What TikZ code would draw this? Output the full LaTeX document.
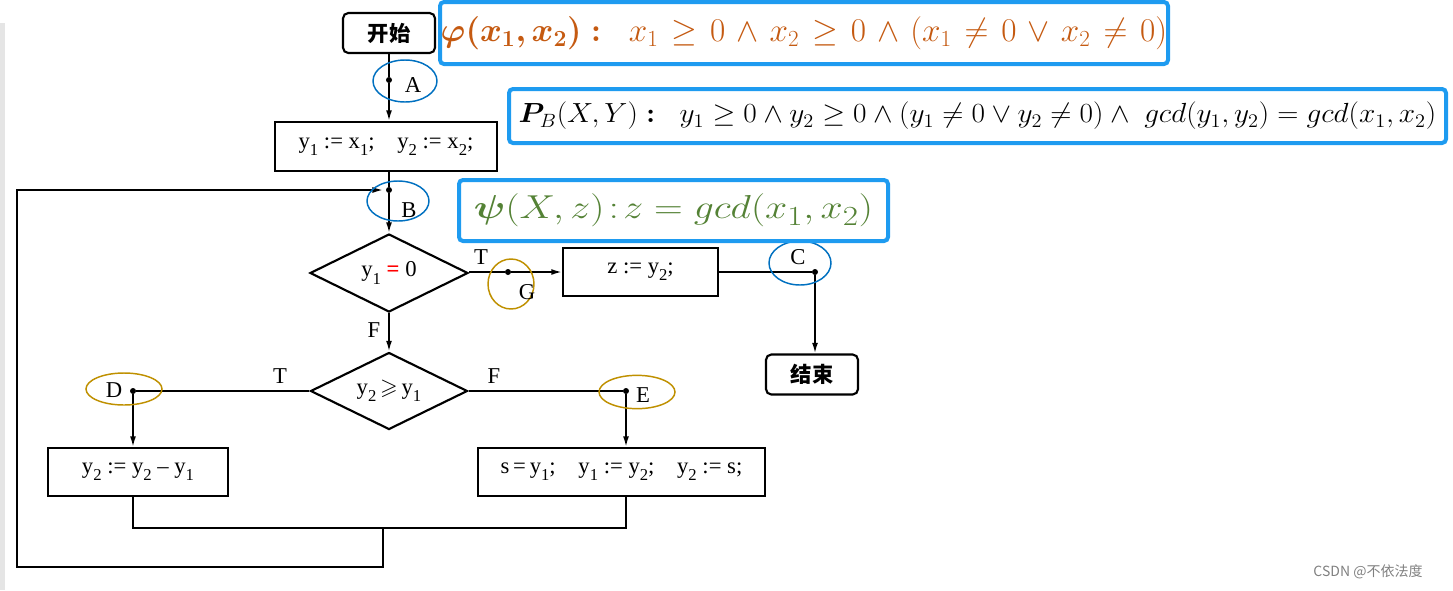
\documentclass[tikz,border=0pt]{standalone}
\usepackage{amsmath,amssymb,bm}
\usepackage{fontspec}
\setmainfont{Liberation Serif}
\newfontfamily\cjk{Noto Sans CJK SC}
\usetikzlibrary{shapes.geometric,arrows.meta}
\definecolor{frameblue}{RGB}{30,155,240}
\definecolor{ellblue}{RGB}{0,112,192}
\definecolor{ellgold}{RGB}{191,144,0}
\definecolor{phiorange}{RGB}{197,90,17}
\definecolor{psigreen}{RGB}{84,130,53}
\newcommand\lsb[1]{\raisebox{-0.7ex}{\fontsize{12.5pt}{12.5pt}\selectfont #1}}
\newcommand\asg{\ :=\ }
\newcommand\msp{\mkern2mu}
\begin{document}
\begin{tikzpicture}[x=0.75pt,y=-0.75pt,
  every node/.style={font=\fontsize{17pt}{19pt}\selectfont},
  procbox/.style={draw,line width=1.6pt,rectangle,inner sep=0pt},
  termbox/.style={draw,line width=1.6pt,rectangle,rounded corners=4pt,inner sep=0pt,minimum width=69pt,minimum height=30pt,font=\cjk\bfseries\fontsize{16pt}{18pt}\selectfont},
  decbox/.style={draw,line width=1.6pt,diamond,aspect=2,inner sep=0pt},
  flow/.style={line width=1.3pt},
  arr/.style={line width=1.3pt,-{Latex[length=8pt,width=4.5pt]}},
  dot/.style={circle,fill=black,inner sep=0pt,minimum size=4.5pt},
  lbl/.style={inner sep=0pt},
  blueell/.style={draw=ellblue,line width=1.1pt},
  goldell/.style={draw=ellgold,line width=1.1pt},
  frame/.style={draw=frameblue,line width=3pt,rounded corners=3pt,rectangle,inner sep=0pt,fill=white}]
\useasboundingbox (0,0) rectangle (1453,590);
\fill[black!10] (0,23) rectangle (5,590);

% flowchart nodes
\node[termbox] (start) at (389,33) {开始};
\node[procbox,minimum width=166.5pt,minimum height=36.75pt] (box1) at (386,146.5) {y\lsb{1}\asg x\lsb{1};\quad y\lsb{2}\asg x\lsb{2};};
\node[decbox,minimum width=118.5pt,minimum height=58.5pt] (d1) at (389,273) {y\lsb{1}\ {\color{red}\textbf{=}}\ 0};
\node[procbox,minimum width=116.25pt,minimum height=36pt] (boxz) at (640.5,272) {z\asg y\lsb{2};};
\node[termbox] (end) at (812,374.5) {结束};
\node[decbox,minimum width=117.75pt,minimum height=57.75pt] (d2) at (389,391) {y\lsb{2}\,$\geqslant$\,y\lsb{1}};
\node[procbox,minimum width=135pt,minimum height=36pt] (box3) at (138,472) {y\lsb{2}\asg y\lsb{2}\ –\ y\lsb{1}};
\node[procbox,minimum width=215.25pt,minimum height=36pt] (box4) at (621.5,472) {s\,=\,y\lsb{1};\quad y\lsb{1}\asg y\lsb{2};\quad y\lsb{2}\asg s;};

% junction points
\node[dot] (dA) at (389,80) {};
\node[dot] (dB) at (389,190) {};
\node[dot] (dG) at (508,272) {};
\node[dot] (dC) at (815,272) {};
\node[dot] (dD) at (133,391) {};
\node[dot] (dE) at (626,391) {};
\coordinate (m1) at (133,528);
\coordinate (m2) at (626,528);
\coordinate (mm) at (383,528);
\coordinate (lb) at (383,567);
\coordinate (ll) at (17,567);
\coordinate (lt) at (17,190);

% connectors
\draw[arr] (start.south) -- (dA) -- (start.south |- box1.north);
\draw[arr] (box1.south -| dB) -- (dB) -- (d1.north);
\draw[arr] (d1.east |- dG) -- (dG) -- (boxz.west);
\draw[flow] (boxz.east) -- (dC);
\draw[arr] (dC) -- (dC |- end.north);
\draw[arr] (d1.south) -- (d2.north);
\draw[flow] (d2.west) -- (dD);
\draw[arr] (dD) -- (dD |- box3.north);
\draw[flow] (d2.east) -- (dE);
\draw[arr] (dE) -- (dE |- box4.north);
\draw[flow] (box3.south -| m1) -- (m1) -- (m2) -- (box4.south -| m2);
\draw[arr,shorten >=2pt] (mm) -- (lb) -- (ll) -- (lt) -- (dB);

% branch labels
\node[lbl] (t1) at (481,257) {T};
\node[lbl] (f1) at (374,330) {F};
\node[lbl] (t2) at (280,376) {T};
\node[lbl] (f2) at (494,376) {F};

% point labels and ellipses
\draw[blueell] (405,81) ellipse [x radius=24pt, y radius=15.75pt];
\node[lbl] (lA) at (413,85) {A};
\draw[blueell] (398,201) ellipse [x radius=23.25pt, y radius=15pt];
\node[lbl] (lB) at (409,210) {B};
\draw[blueell] (800,263) ellipse [x radius=23.25pt, y radius=16.5pt];
\node[lbl] (lC) at (798,257) {C};
\draw[goldell] (511,284) ellipse [x radius=17.25pt, y radius=18.75pt];
\node[lbl] (lG) at (527,292) {G};
\draw[goldell] (124,389) ellipse [x radius=28.5pt, y radius=12pt];
\node[lbl] (lD) at (114,390) {D};
\draw[goldell] (637,392) ellipse [x radius=28.5pt, y radius=12.5pt];
\node[lbl] (lE) at (643,395) {E};

% assertion frames
\node[frame,minimum width=546pt,minimum height=46.5pt,text=phiorange] (phi) at (804,33)
  {\fontsize{24pt}{26pt}\selectfont $\bm{\varphi(x_1,x_2)}\bm{:}\;\; x_1\msp\geq\msp 0\msp\wedge\msp x_2\msp\geq\msp 0\msp\wedge\msp(x_1\msp\neq\msp 0\msp\vee\msp x_2\msp\neq\msp 0)$};
\node[frame,minimum width=702.75pt,minimum height=40.5pt] (pb) at (977.5,116)
  {\scalebox{1.06}[1]{\fontsize{22pt}{24pt}\selectfont $\bm{P}_{B}(X,Y)\bm{:}\;\; y_1\geq 0\wedge y_2\geq 0\wedge(y_1\neq 0\vee y_2\neq 0)\wedge\; gcd(y_1,y_2)=gcd(x_1,x_2)$}};
\node[frame,minimum width=321.75pt,minimum height=45.75pt,text=psigreen] (psi) at (673.5,210.5)
  {\scalebox{1.2}[1]{\fontsize{29pt}{31pt}\selectfont $\bm{\psi}(X,z)\!:\!z=gcd(x_1,x_2)$}};

% watermark
\node[lbl,text=black!50,font=\cjk\fontsize{10.5pt}{12pt}\selectfont] (wm) at (1368,572) {CSDN @不依法度};
\end{tikzpicture}
\end{document}
